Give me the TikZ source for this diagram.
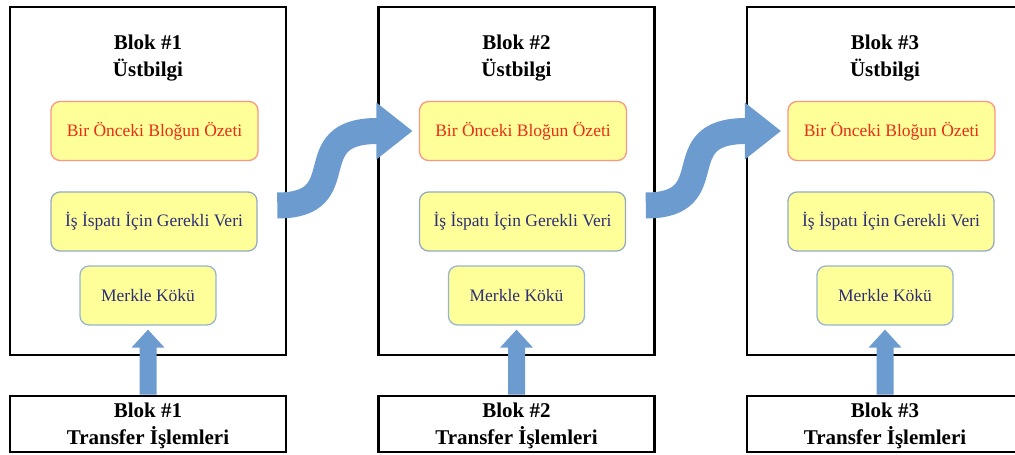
\documentclass[tikz,border=0pt]{standalone}
\usepackage{fontspec}
\setmainfont{Liberation Serif}
\usetikzlibrary{calc}

\definecolor{fieldfill}{RGB}{255,255,153}
\definecolor{hashedge}{RGB}{250,150,130}
\definecolor{hashtext}{RGB}{232,45,25}
\definecolor{powedge}{RGB}{150,170,190}
\definecolor{rootedge}{RGB}{150,180,210}
\definecolor{fieldtext}{RGB}{45,45,120}
\definecolor{flowblue}{RGB}{108,155,207}

\tikzset{
  blockbox/.style={draw=black, line width=2.6pt, minimum width=276pt,
    minimum height=348pt, inner sep=0pt},
  txbox/.style={draw=black, line width=2.6pt, minimum width=276pt,
    minimum height=56pt, inner sep=0pt},
  headtitle/.style={align=center, inner sep=0pt,
    font=\fontsize{21}{27}\selectfont\bfseries},
  field/.style={rounded corners=9pt, fill=fieldfill, line width=1.3pt,
    minimum height=59pt, inner sep=0pt, font=\fontsize{17.5}{20}\selectfont},
  prevhash/.style={field, draw=hashedge, text=hashtext, minimum width=207pt},
  powdata/.style={field, draw=powedge, text=fieldtext, minimum width=206pt},
  merkleroot/.style={field, draw=rootedge, text=fieldtext, minimum width=136pt},
  flow/.style={draw=flowblue, line width=26pt, line cap=butt},
}

\begin{document}
\begin{tikzpicture}[x=1pt, y=-1pt]
\useasboundingbox (0,0) rectangle (1015,455);
\clip (0,0) rectangle (1015,455);

% three blocks: header box with its fields, and the transaction box below
\foreach \n [evaluate=\n as \dx using (\n-1)*368.5] in {1,2,3} {
  \node[blockbox] (blk\n) at (148+\dx,181) {};
  \node[headtitle] (ttl\n) at (148+\dx,58) {Blok \#\n\\Üstbilgi};
  \node[prevhash] (hdr\n) at (154.5+\dx,131) {Bir Önceki Bloğun Özeti};
  \node[powdata] (pow\n) at (154+\dx,221.5) {İş İspatı İçin Gerekli Veri};
  \node[merkleroot] (mk\n) at (148+\dx,295.5) {Merkle Kökü};
  \node[txbox] (tr\n) at (148+\dx,424) {};
  \node[headtitle] (trl\n) at ($(tr\n.center)+(0,2)$) {Blok \#\n\\Transfer İşlemleri};
  % transactions feed the Merkle root
  \fill[flowblue] ($(tr\n.north)+(-8.5,0)$) -- ($(mk\n.south)+(-8.5,22)$)
    -- ($(mk\n.south)+(-16.5,22)$) -- ($(mk\n.south)+(0,4)$)
    -- ($(mk\n.south)+(16.5,22)$) -- ($(mk\n.south)+(8.5,22)$)
    -- ($(tr\n.north)+(8.5,0)$) -- cycle;
}

% curved links from each block to the previous-hash field of the next one
\foreach \a/\b in {1/2,2/3} {
  \coordinate (t\a) at ($(blk\a.east)+(-10,24.5)$);
  \coordinate (h\b) at ($(hdr\b.west)+(-42.5,0)$);
  \coordinate (tip\b) at ($(hdr\b.west)+(-6.5,0)$);
  \draw[flow] (t\a) .. controls ($(t\a)+(80,0)$) and ($(h\b)+(-80,0)$)
    .. ($(h\b)+(1,0)$);
  \fill[flowblue] ($(h\b)+(0,-28.5)$) -- (tip\b) -- ($(h\b)+(0,28.5)$) -- cycle;
}
\end{tikzpicture}
\end{document}
